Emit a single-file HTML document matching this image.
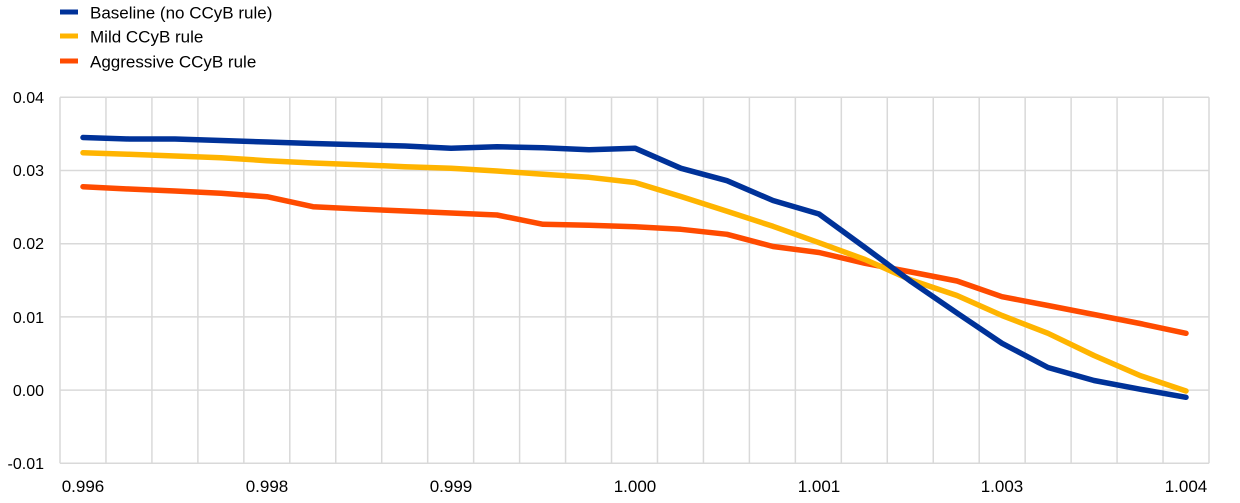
<!DOCTYPE html>
<html>
<head>
<meta charset="utf-8">
<style>
html,body{margin:0;padding:0;background:#fff;}
body{width:1240px;height:503px;overflow:hidden;}
svg{display:block;}
text{font-family:"Liberation Sans",Arial,sans-serif;font-size:16px;fill:#000;}
.lg{font-size:17px;}
.xl{font-size:17px;}
</style>
</head>
<body>
<svg width="1240" height="503" viewBox="0 0 1240 503" xmlns="http://www.w3.org/2000/svg">
  <!-- legend -->
  <line x1="60" y1="12" x2="78" y2="12" stroke="#003299" stroke-width="5"/>
  <text class="lg" x="90" y="18.5">Baseline (no CCyB rule)</text>
  <line x1="60" y1="36" x2="78" y2="36" stroke="#FFB400" stroke-width="5"/>
  <text class="lg" x="90" y="42.5">Mild CCyB rule</text>
  <line x1="60" y1="61" x2="78" y2="61" stroke="#FF4B00" stroke-width="5"/>
  <text class="lg" x="90" y="67.5">Aggressive CCyB rule</text>

  <!-- grid -->
  <g stroke="#d9d9d9" stroke-width="1.5" fill="none">
    <line x1="60" y1="97.3" x2="1209" y2="97.3"/>
    <line x1="60" y1="170.5" x2="1209" y2="170.5"/>
    <line x1="60" y1="243.7" x2="1209" y2="243.7"/>
    <line x1="60" y1="316.9" x2="1209" y2="316.9"/>
    <line x1="60" y1="390.1" x2="1209" y2="390.1"/>
    <line x1="60" y1="463.3" x2="1209" y2="463.3"/>
    <line x1="60" y1="97.3" x2="60" y2="463.3"/>
    <line x1="105.96" y1="97.3" x2="105.96" y2="463.3"/>
    <line x1="151.92" y1="97.3" x2="151.92" y2="463.3"/>
    <line x1="197.88" y1="97.3" x2="197.88" y2="463.3"/>
    <line x1="243.84" y1="97.3" x2="243.84" y2="463.3"/>
    <line x1="289.8" y1="97.3" x2="289.8" y2="463.3"/>
    <line x1="335.76" y1="97.3" x2="335.76" y2="463.3"/>
    <line x1="381.72" y1="97.3" x2="381.72" y2="463.3"/>
    <line x1="427.68" y1="97.3" x2="427.68" y2="463.3"/>
    <line x1="473.64" y1="97.3" x2="473.64" y2="463.3"/>
    <line x1="519.6" y1="97.3" x2="519.6" y2="463.3"/>
    <line x1="565.56" y1="97.3" x2="565.56" y2="463.3"/>
    <line x1="611.52" y1="97.3" x2="611.52" y2="463.3"/>
    <line x1="657.48" y1="97.3" x2="657.48" y2="463.3"/>
    <line x1="703.44" y1="97.3" x2="703.44" y2="463.3"/>
    <line x1="749.4" y1="97.3" x2="749.4" y2="463.3"/>
    <line x1="795.36" y1="97.3" x2="795.36" y2="463.3"/>
    <line x1="841.32" y1="97.3" x2="841.32" y2="463.3"/>
    <line x1="887.28" y1="97.3" x2="887.28" y2="463.3"/>
    <line x1="933.24" y1="97.3" x2="933.24" y2="463.3"/>
    <line x1="979.2" y1="97.3" x2="979.2" y2="463.3"/>
    <line x1="1025.16" y1="97.3" x2="1025.16" y2="463.3"/>
    <line x1="1071.12" y1="97.3" x2="1071.12" y2="463.3"/>
    <line x1="1117.08" y1="97.3" x2="1117.08" y2="463.3"/>
    <line x1="1163.04" y1="97.3" x2="1163.04" y2="463.3"/>
    <line x1="1209" y1="97.3" x2="1209" y2="463.3"/>
  </g>

  <!-- y labels -->
  <g text-anchor="end">
    <text x="44" y="103">0.04</text>
    <text x="44" y="176">0.03</text>
    <text x="44" y="249">0.02</text>
    <text x="44" y="323">0.01</text>
    <text x="44" y="396">0.00</text>
    <text x="44" y="469">-0.01</text>
  </g>
  <!-- x labels -->
  <g text-anchor="middle" class="xl">
    <text class="xl" x="83" y="492">0.996</text>
    <text class="xl" x="267" y="492">0.998</text>
    <text class="xl" x="451" y="492">0.999</text>
    <text class="xl" x="635" y="492">1.000</text>
    <text class="xl" x="819" y="492">1.001</text>
    <text class="xl" x="1002" y="492">1.003</text>
    <text class="xl" x="1186" y="492">1.004</text>
  </g>

  <!-- series -->
  <g fill="none" stroke-width="5.5" stroke-linejoin="round" stroke-linecap="round">
    <polyline stroke="#FF4B00" points="83,186.7 129,189 175,191 221,193.3 267,196.7 313,206.7 359,209 405,211 451,213 497,215 543,224.3 589,225.3 635,226.7 681,229.3 727,234.3 773,246.5 819,252.5 865,263.3 911,272 957,281 1002,296.7 1048,305.5 1094,314.5 1140,323.5 1186,333.3"/>
    <polyline stroke="#FFB400" points="83,152.7 129,154.3 175,156 221,157.7 267,160.7 313,163 359,164.7 405,166.7 451,168.3 497,171 543,174.3 589,177.3 635,182.5 681,196.5 727,211.3 773,226.3 819,242.7 865,259.5 911,280 957,295.5 1002,315.5 1048,333.3 1094,355.5 1140,375.5 1186,391"/>
    <polyline stroke="#003299" points="83,137.5 129,139 175,139 221,140.5 267,142 313,143.5 359,144.7 405,146 451,148.2 497,146.7 543,147.7 589,149.7 635,148.2 681,168.3 727,180.7 773,200.5 819,214 865,247.5 911,281.5 957,313 1002,343.3 1048,367.5 1094,380.5 1140,389.2 1186,397.3"/>
  </g>
</svg>
</body>
</html>
